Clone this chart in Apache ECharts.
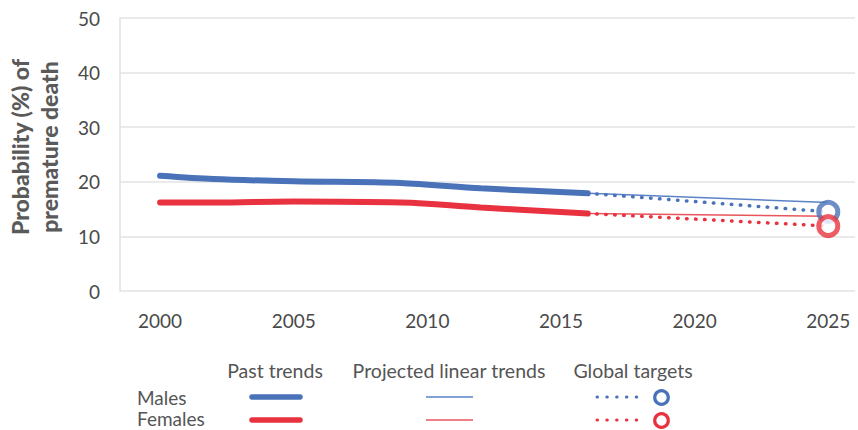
<!DOCTYPE html>
<html>
<head>
<meta charset="utf-8">
<script src="https://cdn.jsdelivr.net/npm/echarts@6/dist/echarts.min.js"></script>
<style>html,body{margin:0;padding:0;background:#fff}#c{width:858px;height:430px}</style>
</head>
<body>
<div id="c"></div>
<script>
// ---- data ----
const pastYears = [2000, 2002, 2005, 2009, 2012, 2016];
const malesPast = [21.1, 20.5, 20.1, 19.8, 18.8, 17.9];
const femalesPast = [16.2, 16.2, 16.4, 16.2, 15.3, 14.2];
const projYears = [2016, 2025];
const malesProjected = [17.9, 16.2];
const femalesProjected = [14.2, 13.7];
const malesTarget = [17.9, 14.5];
const femalesTarget = [14.2, 11.9];
const xTicks = [2000, 2005, 2010, 2015, 2020, 2025];
const yTitle = 'Probability (%) of\npremature death';
const legendHeaders = ['Past trends', 'Projected linear trends', 'Global targets'];
const legendRows = ['Males', 'Females'];

const BLUE = '#4a72b9';
const RED = '#e8323f';
const BLUE_THIN = '#5a82c6';
const RED_THIN = '#e8555c';
const FONT = 'Lato';

const pairs = (xs, ys) => xs.map((x, i) => [x, ys[i]]);

const chart = echarts.init(document.getElementById('c'), null, {renderer: 'svg'});

const dotted = [0.5, 8.5];
const LEG_FONT = '19.5px ' + FONT;
const ROW_FONT = '19px ' + FONT;

chart.setOption({
  animation: false,
  textStyle: {fontFamily: FONT},
  grid: {left: 120, right: 3, top: 18, bottom: 139},
  xAxis: {
    type: 'value', min: 1998.5, max: 2026,
    axisLine: {show: false}, axisTick: {show: false}, splitLine: {show: false},
    axisLabel: {customValues: xTicks, formatter: v => String(v), fontSize: 19, color: '#4a4a4a', margin: 20, fontFamily: FONT}
  },
  yAxis: {
    type: 'value', min: 0, max: 50, interval: 10,
    axisLine: {show: true, lineStyle: {color: '#e0e0e0', width: 1.5}},
    axisTick: {show: false},
    splitLine: {lineStyle: {color: '#e3e3e3', width: 1.5}},
    axisLabel: {fontSize: 19, color: '#4a4a4a', margin: 20, fontFamily: FONT}
  },
  series: [
    {type: 'line', data: pairs(projYears, malesProjected), symbol: 'none', lineStyle: {color: BLUE_THIN, width: 1.5}, z: 2},
    {type: 'line', data: pairs(projYears, femalesProjected), symbol: 'none', lineStyle: {color: RED_THIN, width: 1.5}, z: 2},
    {type: 'line', data: pairs(projYears, malesTarget), symbol: 'none', lineStyle: {color: BLUE, width: 3.5, type: dotted, cap: 'round'}, z: 3},
    {type: 'line', data: pairs(projYears, femalesTarget), symbol: 'none', lineStyle: {color: RED, width: 3.5, type: dotted, cap: 'round'}, z: 3},
    {type: 'line', data: pairs(pastYears, malesPast), symbol: 'none', smooth: 0.3, lineStyle: {color: BLUE, width: 6, cap: 'round'}, z: 4},
    {type: 'line', data: pairs(pastYears, femalesPast), symbol: 'none', smooth: 0.4, lineStyle: {color: RED, width: 6, cap: 'round'}, z: 4},
    {type: 'scatter', data: [[projYears[1], malesTarget[1]]], symbol: 'circle', symbolSize: 19,
      itemStyle: {color: '#fff', borderColor: BLUE, borderWidth: 5}, z: 5},
    {type: 'scatter', data: [[projYears[1], femalesTarget[1]]], symbol: 'circle', symbolSize: 19,
      itemStyle: {color: '#fff', borderColor: RED, borderWidth: 5}, z: 6}
  ],
  graphic: [
    {type: 'text', x: 34, y: 147, rotation: Math.PI / 2,
      style: {text: yTitle, font: '900 23px ' + FONT, fill: '#5a5a5a', align: 'center', verticalAlign: 'middle', lineHeight: 29}},
    // headers
    {type: 'text', x: 275, y: 370, style: {text: legendHeaders[0], font: LEG_FONT, fill: '#555', align: 'center', verticalAlign: 'middle'}},
    {type: 'text', x: 449, y: 370, style: {text: legendHeaders[1], font: LEG_FONT, fill: '#555', align: 'center', verticalAlign: 'middle'}},
    {type: 'text', x: 633, y: 370, style: {text: legendHeaders[2], font: LEG_FONT, fill: '#555', align: 'center', verticalAlign: 'middle'}},
    // rows
    {type: 'text', x: 137, y: 397, style: {text: legendRows[0], font: ROW_FONT, fill: '#555', align: 'left', verticalAlign: 'middle'}},
    {type: 'text', x: 137, y: 418, style: {text: legendRows[1], font: ROW_FONT, fill: '#555', align: 'left', verticalAlign: 'middle'}},
    // past samples
    {type: 'line', shape: {x1: 252, y1: 397, x2: 300, y2: 397}, style: {stroke: BLUE, lineWidth: 5.5, lineCap: 'round'}},
    {type: 'line', shape: {x1: 252, y1: 420, x2: 300, y2: 420}, style: {stroke: RED, lineWidth: 5.5, lineCap: 'round'}},
    // projected samples
    {type: 'line', shape: {x1: 426, y1: 397, x2: 473, y2: 397}, style: {stroke: BLUE_THIN, lineWidth: 1.5}},
    {type: 'line', shape: {x1: 426, y1: 420, x2: 473, y2: 420}, style: {stroke: RED_THIN, lineWidth: 1.5}},
    // target samples
    {type: 'line', shape: {x1: 597, y1: 397, x2: 646, y2: 397}, style: {stroke: BLUE, lineWidth: 3, lineCap: 'round', lineDash: [0.5, 9.3]}},
    {type: 'line', shape: {x1: 597, y1: 420, x2: 646, y2: 420}, style: {stroke: RED, lineWidth: 3, lineCap: 'round', lineDash: [0.5, 9.3]}},
    {type: 'circle', shape: {cx: 661.5, cy: 397.5, r: 6.8}, style: {fill: '#fff', stroke: BLUE, lineWidth: 3.2}},
    {type: 'circle', shape: {cx: 661.5, cy: 420.5, r: 6.8}, style: {fill: '#fff', stroke: RED, lineWidth: 3.2}}
  ]
});
</script>
</body>
</html>
